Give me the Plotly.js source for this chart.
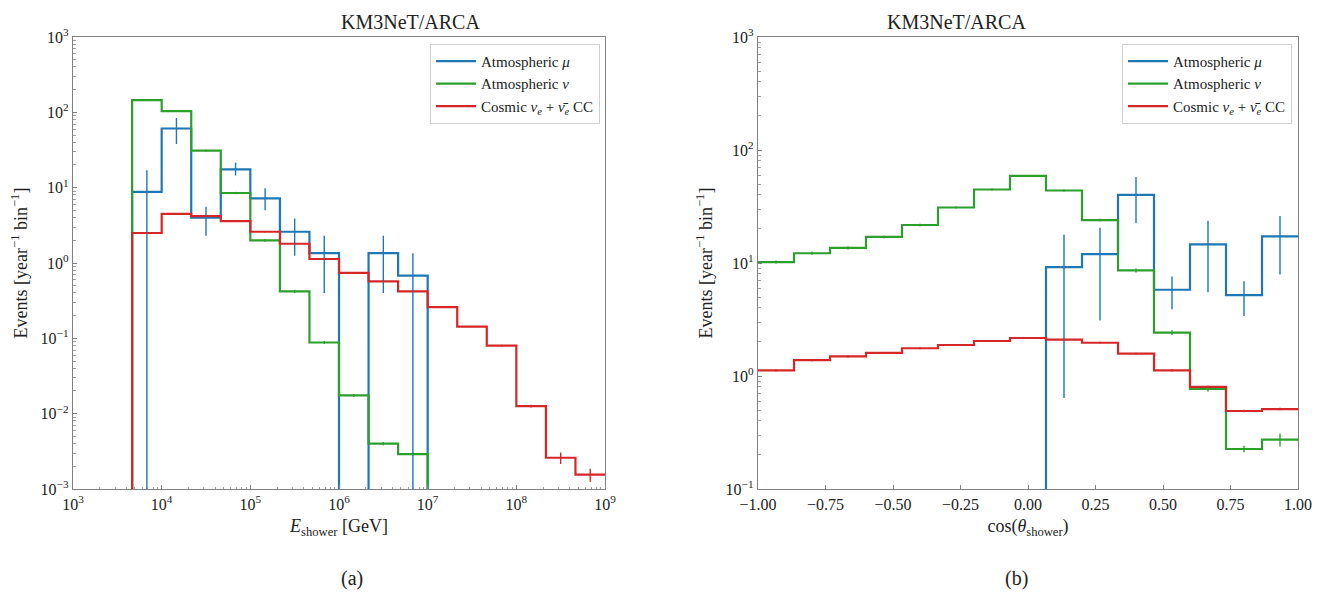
<!DOCTYPE html>
<html>
<head>
<meta charset="utf-8">
<script src="https://cdn.plot.ly/plotly-3.0.1.min.js"></script>
<style>html,body{margin:0;padding:0;background:#fff;}#plot{width:1322px;height:594px;}</style>
</head>
<body>
<div id="plot"></div>
<script>
// ---------- Panel (a): energy, log10 bin edges (1/3 decade) ----------
const energyLogEdges = [11/3, 4, 13/3, 14/3, 5, 16/3, 17/3, 6, 19/3, 20/3, 7, 22/3, 23/3, 8, 25/3, 26/3, 9];
const muE    = [8.8, 61, 4.0, 17.5, 7.2, 2.6, 1.35, 0, 1.35, 0.68, 0, 0, 0, 0, 0, 0];
const muELo  = [0, 38, 2.3, 14.5, 5.0, 1.25, 0.4, null, 0.4, 0];
const muEHi  = [17, 84, 5.6, 21.5, 9.8, 3.9, 2.3, null, 2.3, 1.35];
const nuE    = [145, 104, 31, 8.5, 2.0, 0.42, 0.088, 0.0175, 0.004, 0.0029, 0, 0, 0, 0, 0, 0];
const nuEErr = [4, 3, 0.9, 0.3, 0.08, 0.02, 0.004, 0.0008, 0.0002, 0.00015, 0, 0, 0, 0, 0, 0];
const cosE   = [2.5, 4.5, 4.2, 3.6, 2.6, 1.8, 1.13, 0.74, 0.57, 0.42, 0.26, 0.143, 0.08, 0.0126, 0.0026, 0.00155];
const cosEErr= [0.06, 0.1, 0.1, 0.08, 0.06, 0.04, 0.025, 0.016, 0.012, 0.009, 0.006, 0.003, 0.002, 0.0005, 0.00045, 0.0003];

// ---------- Panel (b): cos(theta), 15 bins ----------
const cosEdges = [-1, -13/15, -11/15, -9/15, -7/15, -5/15, -3/15, -1/15, 1/15, 3/15, 5/15, 7/15, 9/15, 11/15, 13/15, 1];
const muC    = [0, 0, 0, 0, 0, 0, 0, 0, 9.2, 12, 40, 5.8, 14.6, 5.2, 17.2];
const muCLo  = [null, null, null, null, null, null, null, null, 0.64, 3.1, 22.5, 3.9, 5.5, 3.4, 7.9];
const muCHi  = [null, null, null, null, null, null, null, null, 17.8, 20.5, 57.6, 7.6, 23.6, 6.9, 26.1];
const nuC    = [10.2, 12.2, 13.6, 17, 21.7, 31, 44.7, 59, 43.8, 24, 8.6, 2.42, 0.77, 0.226, 0.273];
const nuCErr = [0.3, 0.35, 0.4, 0.45, 0.55, 0.7, 0.9, 1.1, 0.9, 0.6, 0.35, 0.12, 0.04, 0.015, 0.035];
const cosC   = [1.12, 1.38, 1.49, 1.6, 1.76, 1.88, 2.04, 2.17, 2.1, 1.97, 1.58, 1.12, 0.80, 0.49, 0.51];
const cosCErr= [0.025, 0.03, 0.03, 0.03, 0.035, 0.035, 0.04, 0.04, 0.04, 0.035, 0.03, 0.025, 0.02, 0.013, 0.013];

const seriesNames = ['Atmospheric <i>μ</i>', 'Atmospheric <i>ν</i>', 'Cosmic <i>ν</i><sub><i>e</i></sub> + <i>ν̄</i><sub><i>e</i></sub> CC'];
const colors = ['#1f77b4', '#2ca02c', '#d62728'];
const logTickVals = [-3, -2, -1, 0, 1, 2, 3, 4, 5, 6, 7, 8, 9];
const FLOOR = 1e-9; // stand-in for empty bins on log axes (drawn below the axis)

function pow10(a){ return a.map(v => Math.pow(10, v)); }
function supText(p){ return '10<sup>' + (p < 0 ? '−' + (-p) : p) + '</sup>'; }
function minorVals(p0, p1){
  const out = [];
  for (let p = p0; p < p1; p++) for (let m = 2; m <= 9; m++) out.push(m * Math.pow(10, p));
  return out;
}

// step outline; end drops are skipped where they would sit on the frame (hidden by the spine in the original)
function stepXY(edges, vals, xmin, xmax){
  const x = [], y = [];
  const first = edges[0], last = edges[edges.length-1];
  if (Math.abs(first - xmin) > 1e-9 * Math.abs(xmin || 1)) { x.push(first); y.push(FLOOR); }
  for (let i = 0; i < vals.length; i++){
    const v = vals[i] > 0 ? vals[i] : FLOOR;
    x.push(edges[i], edges[i+1]); y.push(v, v);
  }
  if (Math.abs(last - xmax) > 1e-9 * Math.abs(xmax || 1)) { x.push(last); y.push(FLOOR); }
  return {x, y};
}
function centers(edges, isLog){
  const c = [];
  for (let i = 0; i < edges.length - 1; i++){
    c.push(isLog ? Math.sqrt(edges[i]*edges[i+1]) : (edges[i]+edges[i+1])/2);
  }
  return c;
}
function errSegs(cx, lo, hi){
  const x = [], y = [];
  for (let i = 0; i < cx.length; i++){
    if (lo[i] === null || lo[i] === undefined || hi[i] === null || hi[i] === undefined) continue;
    x.push(cx[i], cx[i], null);
    y.push(lo[i] > 0 ? lo[i] : FLOOR, hi[i], null);
  }
  return {x, y};
}
function symLo(v, e){ return v.map((a, i) => a > 0 ? a - e[i] : null); }
function symHi(v, e){ return v.map((a, i) => a > 0 ? a + e[i] : null); }

const eEdges = pow10(energyLogEdges);
const eCent = centers(eEdges, true);
const cCent = centers(cosEdges, false);

const traces = [];
function addPanel(edges, cent, vals, errs, xa, ya, leg, xmin, xmax){
  for (let s = 0; s < 3; s++){
    const st = stepXY(edges, vals[s], xmin, xmax);
    traces.push({x: st.x, y: st.y, type: 'scatter', mode: 'lines', name: seriesNames[s],
      line: {color: colors[s], width: 2.2}, xaxis: xa, yaxis: ya, legend: leg, showlegend: true});
  }
  for (let s = 0; s < 3; s++){
    const seg = errSegs(cent, errs[s][0], errs[s][1]);
    traces.push({x: seg.x, y: seg.y, type: 'scatter', mode: 'lines', showlegend: false, hoverinfo: 'skip',
      line: {color: colors[s], width: 1.4}, xaxis: xa, yaxis: ya, legend: leg});
  }
}
addPanel(eEdges, eCent, [muE, nuE, cosE],
  [[muELo, muEHi], [symLo(nuE, nuEErr), symHi(nuE, nuEErr)], [symLo(cosE, cosEErr), symHi(cosE, cosEErr)]],
  'x', 'y', 'legend', 1e3, 1e9);
addPanel(cosEdges, cCent, [muC, nuC, cosC],
  [[muCLo, muCHi], [symLo(nuC, nuCErr), symHi(nuC, nuCErr)], [symLo(cosC, cosCErr), symHi(cosC, cosCErr)]],
  'x2', 'y2', 'legend2', -1, 1);
// empty traces so the minor-tick overlay axes get drawn
traces.push({x: [], y: [], type: 'scatter', mode: 'lines', xaxis: 'x3', yaxis: 'y3', showlegend: false, hoverinfo: 'skip'});
traces.push({x: [], y: [], type: 'scatter', mode: 'lines', xaxis: 'x4', yaxis: 'y4', showlegend: false, hoverinfo: 'skip'});

const W = 1322, H = 594;
const FONT = 'Liberation Serif, DejaVu Serif, serif';
const axisBase = {
  showline: true, mirror: true, linecolor: '#808080', linewidth: 1.3, layer: 'above traces',
  ticks: 'inside', ticklen: 4, tickwidth: 1, tickcolor: '#808080',
  showgrid: false, zeroline: false, automargin: false,
  tickfont: {family: FONT, size: 16, color: '#222'}
};
const minorBase = {
  showline: false, showgrid: false, zeroline: false, automargin: false, showticklabels: false,
  ticks: 'inside', ticklen: 2.5, tickwidth: 0.8, tickcolor: '#8a8a8a', tickmode: 'array', layer: 'above traces'
};

const xaTicks = logTickVals.filter(p => p >= 3 && p <= 9);
const yaTicks = logTickVals.filter(p => p >= -3 && p <= 3);
const yb = logTickVals.filter(p => p >= -1 && p <= 3);

const layout = {
  width: W, height: H,
  margin: {l: 0, r: 0, t: 37, b: 105},
  paper_bgcolor: '#fff', plot_bgcolor: 'rgba(0,0,0,0)',
  font: {family: FONT, color: '#222'},
  xaxis: Object.assign({}, axisBase, {
    type: 'log', domain: [73/W, 605/W], range: [3, 9], anchor: 'y',
    tickmode: 'array', tickvals: pow10(xaTicks), ticktext: xaTicks.map(supText),
    title: {text: '<i>E</i><sub>shower</sub> [GeV]', font: {family: FONT, size: 18, color: '#222'}, standoff: 8}
  }),
  yaxis: Object.assign({}, axisBase, {
    type: 'log', range: [-3, 3], anchor: 'x',
    tickmode: 'array', tickvals: pow10(yaTicks), ticktext: yaTicks.map(supText),
    title: {text: 'Events [year<sup>−1</sup> bin<sup>−1</sup>]', font: {family: FONT, size: 18, color: '#222'}, standoff: 8}
  }),
  xaxis2: Object.assign({}, axisBase, {
    domain: [758/W, 1298/W], range: [-1, 1], anchor: 'y2',
    tickmode: 'linear', tick0: -1, dtick: 0.25, tickformat: '.2f',
    title: {text: 'cos(<i>θ</i><sub>shower</sub>)', font: {family: FONT, size: 18, color: '#222'}, standoff: 8}
  }),
  yaxis2: Object.assign({}, axisBase, {
    type: 'log', range: [-1, 3], anchor: 'x2',
    tickmode: 'array', tickvals: pow10(yb), ticktext: yb.map(supText),
    title: {text: 'Events [year<sup>−1</sup> bin<sup>−1</sup>]', font: {family: FONT, size: 18, color: '#222'}, standoff: 8}
  }),
  // minor tick overlays
  xaxis3: Object.assign({}, minorBase, {type: 'log', overlaying: 'x', anchor: 'y3', range: [3, 9], tickvals: minorVals(3, 9)}),
  yaxis3: Object.assign({}, minorBase, {type: 'log', overlaying: 'y', anchor: 'x3', range: [-3, 3], tickvals: minorVals(-3, 3)}),
  xaxis4: Object.assign({}, minorBase, {overlaying: 'x2', anchor: 'y4', range: [-1, 1], tickvals: [], ticks: ''}),
  yaxis4: Object.assign({}, minorBase, {type: 'log', overlaying: 'y2', anchor: 'x4', range: [-1, 3], tickvals: minorVals(-1, 3)}),
  legend: {x: 600/W, xref: 'paper', xanchor: 'right', y: 0.985, yanchor: 'top',
    bgcolor: 'rgba(255,255,255,0.9)', bordercolor: '#d0d0d0', borderwidth: 1,
    font: {family: FONT, size: 15, color: '#222'}, tracegroupgap: 0, itemwidth: 40},
  legend2: {x: 1292/W, xref: 'paper', xanchor: 'right', y: 0.985, yanchor: 'top',
    bgcolor: 'rgba(255,255,255,0.9)', bordercolor: '#d0d0d0', borderwidth: 1,
    font: {family: FONT, size: 15, color: '#222'}, tracegroupgap: 0, itemwidth: 40},
  annotations: [
    {text: 'KM3NeT/ARCA', x: (73+605)/2/W, y: 1, xref: 'paper', yref: 'paper', yanchor: 'bottom', yshift: 2,
      showarrow: false, font: {family: FONT, size: 20, color: '#222'}},
    {text: 'KM3NeT/ARCA', x: (758+1298)/2/W, y: 1, xref: 'paper', yref: 'paper', yanchor: 'bottom', yshift: 2,
      showarrow: false, font: {family: FONT, size: 20, color: '#222'}},
    {text: '(a)', x: 339/W, y: -0.197, xref: 'paper', yref: 'paper', yanchor: 'middle',
      showarrow: false, font: {family: FONT, size: 20, color: '#222'}},
    {text: '(b)', x: 1030/W, y: -0.197, xref: 'paper', yref: 'paper', yanchor: 'middle',
      showarrow: false, font: {family: FONT, size: 20, color: '#222'}}
  ]
};

Plotly.newPlot('plot', traces, layout, {staticPlot: true});
</script>
</body>
</html>
